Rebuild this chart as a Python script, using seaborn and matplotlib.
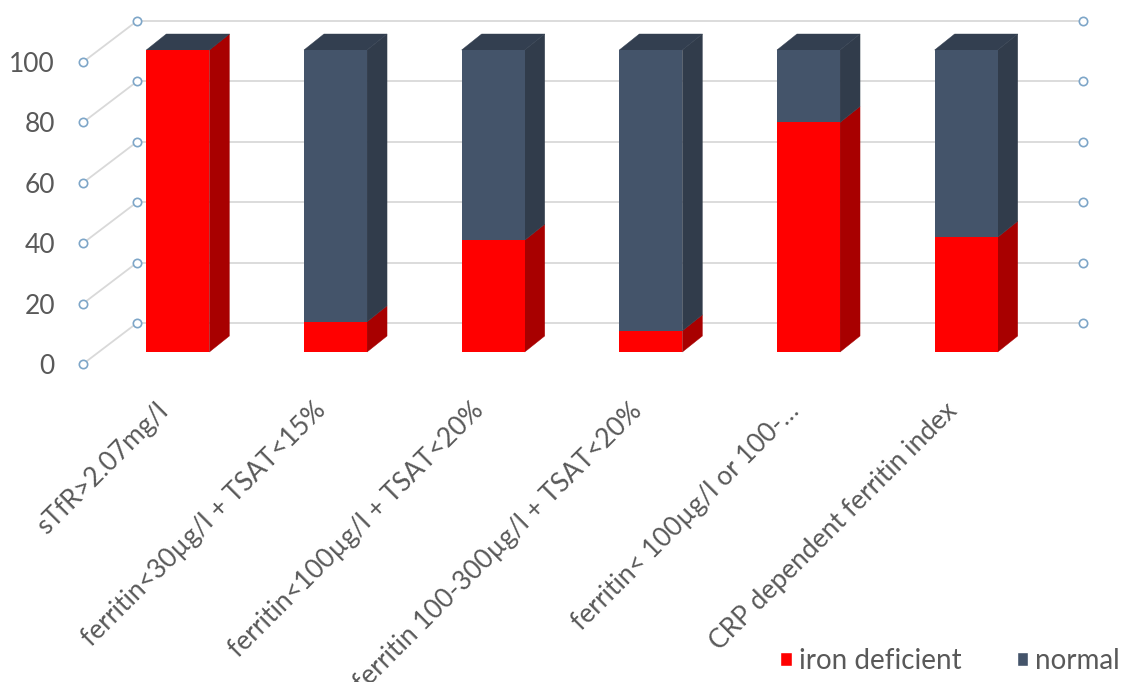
"""Stacked 3D-style bar chart: iron deficiency by definition."""
import matplotlib
matplotlib.use("Agg")
import matplotlib.pyplot as plt
from matplotlib.patches import Polygon, Patch
from matplotlib.transforms import ScaledTranslation
import seaborn as sns
import pandas as pd

categories = [
    "sTfR>2.07mg/l",
    "ferritin<30µg/l + TSAT<15%",
    "ferritin<100µg/l + TSAT<20%",
    "ferritin 100-300µg/l + TSAT<20%",
    "ferritin< 100µg/l or 100-…",
    "CRP dependent ferritin index",
]
iron_deficient = [100, 10, 37, 7, 76, 38]
normal = [0, 90, 63, 93, 24, 62]
y_ticks = [0, 20, 40, 60, 80, 100]
series_names = ["iron deficient", "normal"]

RED, RED_SIDE = "#ff0000", "#a80000"
BLUE, BLUE_SIDE, BLUE_TOP = "#44546a", "#313c4b", "#333f50"
GRID, DOT, TEXT = "#d9d9d9", "#7ea6c8", "#595959"

sns.set_theme(style="white")
plt.rcParams["font.family"] = ["Lato", "DejaVu Sans"]

df = pd.DataFrame({"category": categories,
                   "iron deficient": iron_deficient,
                   "normal": normal})
df["total"] = df["iron deficient"] + df["normal"]

W, H, DPI = 1135, 682, 100
fig = plt.figure(figsize=(W / DPI, H / DPI), dpi=DPI)
ax = fig.add_axes([99 / W, (H - 352) / H, 946 / W, 302 / H])

# front faces: total in "normal" colour, iron deficient drawn over it
sns.barplot(data=df, x="category", y="total", color=BLUE, width=0.4,
            saturation=1, errorbar=None, linewidth=0, ax=ax, zorder=3)
n = len(ax.patches)
sns.barplot(data=df, x="category", y="iron deficient", color=RED, width=0.4,
            saturation=1, errorbar=None, linewidth=0, ax=ax, zorder=3)
ax.set_xlim(-0.5, len(categories) - 0.5)
ax.set_ylim(0, 100)
ax.set_xlabel("")
ax.set_ylabel("")
for s in ax.spines.values():
    s.set_visible(False)


def px(dx, dy):
    """Pixel offset (dy up) -> data offset."""
    o = ax.transData.transform((0, 0))
    sx = ax.transData.transform((1, 0))[0] - o[0]
    sy = ax.transData.transform((0, 1))[1] - o[1]
    return dx / sx, dy / sy


depth = px(20, 16)
front = px(-16, -12)
back = px(38, 29)
x_lo, x_hi = ax.get_xlim()

# back wall + side wall gridlines with the little circle markers
for v in y_ticks:
    ax.plot([x_lo + front[0], x_lo + back[0]], [v + front[1], v + back[1]],
            color=GRID, lw=1.3, clip_on=False, zorder=1)
    ax.plot([x_lo + back[0], x_hi + back[0]], [v + back[1], v + back[1]],
            color=GRID, lw=1.3, clip_on=False, zorder=1)
    ax.plot([x_lo + front[0], x_lo + back[0], x_hi + back[0]],
            [v + front[1], v + back[1], v + back[1]], ls="none", marker="o",
            ms=6, mfc="white", mec=DOT, mew=1.2, clip_on=False, zorder=2)

# side and top faces of each bar
dx, dy = depth
for tb, rb in zip(ax.patches[:n], ax.patches[n:n * 2]):
    x0 = tb.get_x()
    x1 = x0 + tb.get_width()
    top = tb.get_height()
    red = rb.get_height()
    faces = [
        ([(x1, 0), (x1 + dx, dy), (x1 + dx, red + dy), (x1, red)], RED_SIDE),
        ([(x1, red), (x1 + dx, red + dy), (x1 + dx, top + dy), (x1, top)], BLUE_SIDE),
        ([(x0, top), (x0 + dx, top + dy), (x1 + dx, top + dy), (x1, top)], BLUE_TOP),
    ]
    for verts, c in faces:
        ax.add_patch(Polygon(verts, closed=True, facecolor=c, edgecolor=c,
                             lw=0.3, clip_on=False, zorder=2.5))

# tick labels
ax.set_yticks(y_ticks)
ax.set_yticklabels([str(v) for v in y_ticks])
ax.tick_params(axis="y", length=0, pad=0, labelsize=19, labelcolor=TEXT)
for lbl in ax.get_yticklabels():
    lbl.set_transform(lbl.get_transform()
                      + ScaledTranslation(-44 / DPI, -12 / DPI, fig.dpi_scale_trans))

ax.set_xticks(range(len(categories)))
ax.set_xticklabels(categories, rotation=45, ha="right", va="top",
                   rotation_mode="anchor")
ax.tick_params(axis="x", length=0, pad=0, labelsize=19, labelcolor=TEXT)
for lbl in ax.get_xticklabels():
    lbl.set_transform(lbl.get_transform()
                      + ScaledTranslation(-22 / DPI, -46 / DPI, fig.dpi_scale_trans))

handles = [Patch(facecolor=RED, label=series_names[0]),
           Patch(facecolor=BLUE, label=series_names[1])]
fig.legend(handles=handles, loc="center", bbox_to_anchor=(950 / W, 21 / H),
           ncol=2, frameon=False, fontsize=20, handlelength=0.4,
           handleheight=0.4, handletextpad=0.25, columnspacing=2.0,
           labelcolor=TEXT)

fig.savefig("out.png", dpi=DPI)
